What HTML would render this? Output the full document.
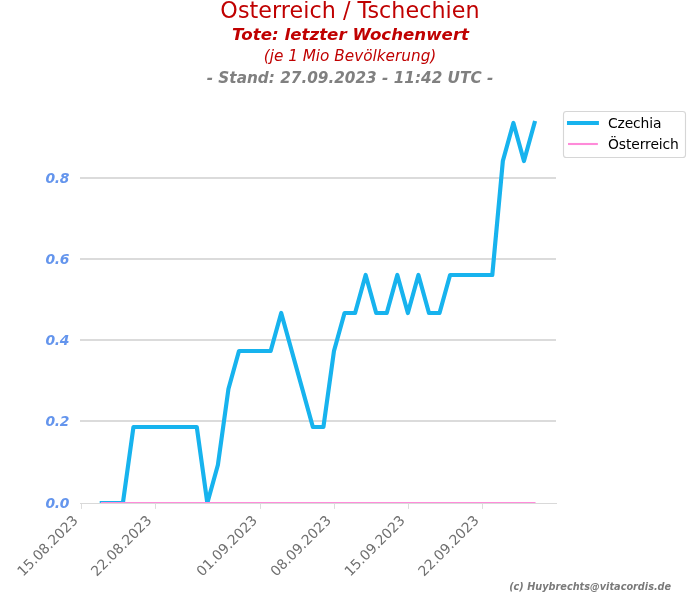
<!DOCTYPE html>
<html lang="de"><head><meta charset="utf-8"><title>Österreich / Tschechien</title>
<style>html,body{margin:0;padding:0;background:#fff;overflow:hidden}svg{display:block}text{font-family:"DejaVu Sans","Liberation Sans",sans-serif}</style></head><body>
<svg width="700" height="600" viewBox="0 0 700 600">
<rect width="700" height="600" fill="#fff"/>
<g opacity="0.999">
<defs><clipPath id="tt"><rect x="0" y="1" width="700" height="30"/></clipPath><clipPath id="ax"><rect x="81.0" y="104.5" width="476.0" height="398.5"/></clipPath></defs>
<text clip-path="url(#tt)" x="350" y="18.2" letter-spacing="0.045" text-anchor="middle" font-size="22.222" fill="#c00000">Österreich / Tschechien</text>
<text x="350.6" y="39.9" text-anchor="middle" font-size="16.667" font-weight="bold" font-style="oblique" fill="#c00000">Tote: letzter Wochenwert</text>
<text x="350" y="61" text-anchor="middle" font-size="15.278" font-style="oblique" fill="#c00000">(je 1 Mio Bevölkerung)</text>
<text x="350" y="82.6" text-anchor="middle" font-size="15.278" font-weight="bold" font-style="oblique" fill="#808080">- Stand: 27.09.2023 - 11:42 UTC -</text>
<rect x="80" y="177" width="476" height="2" fill="#dbdbdb"/>
<rect x="80" y="258" width="476" height="2" fill="#dbdbdb"/>
<rect x="80" y="339" width="476" height="2" fill="#dbdbdb"/>
<rect x="80" y="420" width="476" height="2" fill="#dbdbdb"/>
<g clip-path="url(#ax)">
<polyline points="101.79,503.00 112.34,503.00 122.90,503.00 133.45,427.00 144.00,427.00 154.56,427.00 165.11,427.00 175.67,427.00 186.22,427.00 196.78,427.00 207.33,503.00 217.88,465.00 228.44,389.00 238.99,351.00 249.55,351.00 260.10,351.00 270.66,351.00 281.21,313.00 291.76,351.00 302.32,389.00 312.87,427.00 323.43,427.00 333.98,351.00 344.54,313.00 355.09,313.00 365.64,275.00 376.20,313.00 386.75,313.00 397.31,275.00 407.86,313.00 418.42,275.00 428.97,313.00 439.52,313.00 450.08,275.00 460.63,275.00 471.19,275.00 481.74,275.00 492.30,275.00 502.85,161.00 513.40,123.00 523.96,161.00 534.51,123.00" fill="none" stroke="#17b3ee" stroke-width="4.17" stroke-linejoin="round" stroke-linecap="square"/>
<line x1="101.79" y1="503.0" x2="534.51" y2="503.0" stroke="#ff8bd9" stroke-width="2.08" stroke-linecap="square"/>
</g>
<rect x="80" y="503" width="477" height="1" fill="#d9d9d9"/>
<rect x="81" y="504" width="1" height="4.9" fill="#dcdcdc"/>
<text transform="translate(78.63,521.3) rotate(-45)" text-anchor="end" letter-spacing="-0.07" font-size="13.889" fill="#707070">15.08.2023</text>
<rect x="155" y="504" width="1" height="4.9" fill="#dcdcdc"/>
<text transform="translate(152.51,521.3) rotate(-45)" text-anchor="end" letter-spacing="-0.07" font-size="13.889" fill="#707070">22.08.2023</text>
<rect x="260" y="504" width="1" height="4.9" fill="#dcdcdc"/>
<text transform="translate(258.05,521.3) rotate(-45)" text-anchor="end" letter-spacing="-0.07" font-size="13.889" fill="#707070">01.09.2023</text>
<rect x="334" y="504" width="1" height="4.9" fill="#dcdcdc"/>
<text transform="translate(331.93,521.3) rotate(-45)" text-anchor="end" letter-spacing="-0.07" font-size="13.889" fill="#707070">08.09.2023</text>
<rect x="408" y="504" width="1" height="4.9" fill="#dcdcdc"/>
<text transform="translate(405.81,521.3) rotate(-45)" text-anchor="end" letter-spacing="-0.07" font-size="13.889" fill="#707070">15.09.2023</text>
<rect x="482" y="504" width="1" height="4.9" fill="#dcdcdc"/>
<text transform="translate(479.69,521.3) rotate(-45)" text-anchor="end" letter-spacing="-0.07" font-size="13.889" fill="#707070">22.09.2023</text>
<text x="69.1" y="183.05" text-anchor="end" letter-spacing="-0.33" font-size="13.889" font-weight="bold" font-style="oblique" fill="#6495ed">0.8</text>
<text x="69.1" y="264.05" text-anchor="end" letter-spacing="-0.33" font-size="13.889" font-weight="bold" font-style="oblique" fill="#6495ed">0.6</text>
<text x="69.1" y="345.05" text-anchor="end" letter-spacing="-0.33" font-size="13.889" font-weight="bold" font-style="oblique" fill="#6495ed">0.4</text>
<text x="69.1" y="426.05" text-anchor="end" letter-spacing="-0.33" font-size="13.889" font-weight="bold" font-style="oblique" fill="#6495ed">0.2</text>
<text x="69.1" y="508.05" text-anchor="end" letter-spacing="-0.33" font-size="13.889" font-weight="bold" font-style="oblique" fill="#6495ed">0.0</text>
<rect x="563.5" y="111.5" width="122" height="46" rx="2.8" ry="2.8" fill="#fff" fill-opacity="0.8" stroke="#cccccc" stroke-opacity="0.8" stroke-width="1.1"/>
<line x1="569.06" y1="123" x2="596.84" y2="123" stroke="#17b3ee" stroke-width="4.17" stroke-linecap="square"/>
<line x1="569.06" y1="144" x2="596.84" y2="144" stroke="#ff8bd9" stroke-width="2.08" stroke-linecap="square"/>
<text x="608" y="128.0" letter-spacing="-0.15" font-size="13.889" fill="#000">Czechia</text>
<text x="608" y="149.0" letter-spacing="-0.1" font-size="13.889" fill="#000">Österreich</text>
<text x="671.2" y="590" text-anchor="end" font-size="9.722" font-weight="bold" font-style="oblique" fill="#7a7a7a">(c) Huybrechts@vitacordis.de</text>
</g>
</svg></body></html>
